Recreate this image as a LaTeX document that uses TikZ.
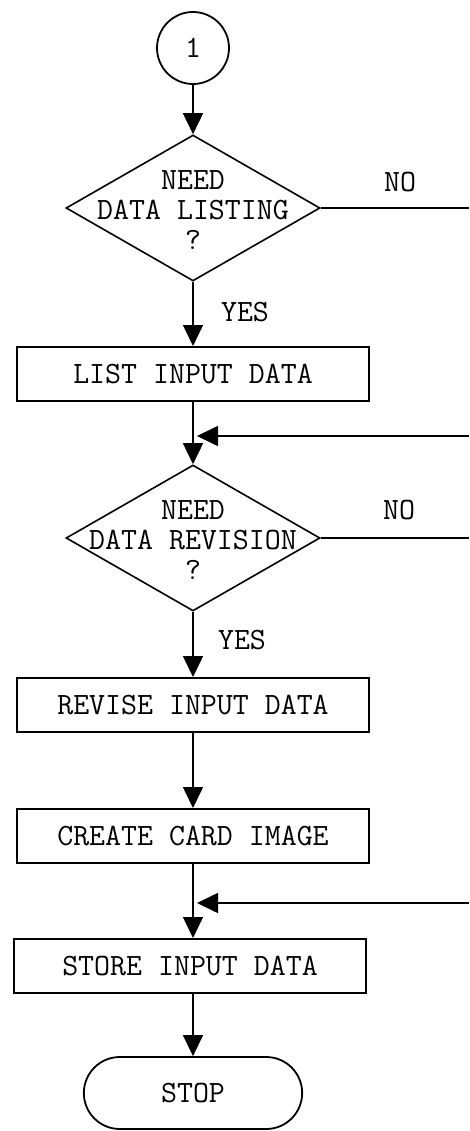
\documentclass[tikz,border=0pt]{standalone}
\usepackage{fontspec}
\usetikzlibrary{shapes.geometric,shapes.misc,arrows.meta}

\begin{document}
\begin{tikzpicture}[x=1pt,y=-1pt,font=\fontsize{31}{30}\selectfont\ttfamily,>={Triangle[width=20pt,length=21pt]}]
\tikzstyle{conn}=[circle,draw,line width=1.8pt,minimum size=72pt,inner sep=0pt]
\tikzstyle{question}=[diamond,draw,line width=1.6pt,minimum width=254pt,minimum height=146pt,inner sep=0pt]
\tikzstyle{qtext}=[align=center,inner sep=0pt]
\tikzstyle{proc}=[rectangle,draw,line width=2pt,minimum width=352pt,minimum height=54pt,inner sep=0pt]
\tikzstyle{term}=[rounded rectangle,draw,line width=1.8pt,minimum width=225pt,minimum height=72pt]
\tikzstyle{flow}=[->,line width=1.6pt]
\tikzstyle{wire}=[line width=1.6pt]
\useasboundingbox (0,0) rectangle (469,1131);
% column of boxes
\node [conn] (c1) at (193,48) {1};
\node [question] (d1) at (193,208) {};
\node [qtext] (d1t) at (193,210) {NEED\\DATA LISTING\\?};
\node [proc] (list) at (193,374) {LIST INPUT DATA};
\node [question] (d2) at (193,538) {};
\node [qtext] (d2t) at (193,540) {NEED\\DATA REVISION\\?};
\node [proc] (rev) at (193,705) {REVISE INPUT DATA};
\node [proc] (card) at (193,836) {CREATE CARD IMAGE};
\node [proc] (store) at (190,966) {STORE INPUT DATA};
\node [term] (stop) at (193,1093) {STOP};
% branch labels
\node (yes1) at (245,312) {YES};
\node (no1) at (400,182) {NO};
\node (yes2) at (242,640) {YES};
\node (no2) at (399,510) {NO};
% free ends at the right edge
\coordinate (r1) at (469,208);
\coordinate (r2) at (469,436);
\coordinate (r3) at (469,538);
\coordinate (r4) at (469,903);
\coordinate (j2) at (197,436);
\coordinate (j4) at (197,903);
% connectors
\draw [flow] (c1) -- (d1);
\draw [flow] (d1) -- (list);
\draw [flow] (list) -- (d2);
\draw [flow] (d2) -- (rev);
\draw [flow] (rev) -- (card);
\draw [flow] (card) -- (store.north -| card.south);
\draw [flow] (store.south -| stop.north) -- (stop);
\draw [wire] (d1.east) -- (r1);
\draw [wire] (d2.east) -- (r3);
\draw [flow] (r2) -- (j2);
\draw [flow] (r4) -- (j4);
\end{tikzpicture}
\end{document}
